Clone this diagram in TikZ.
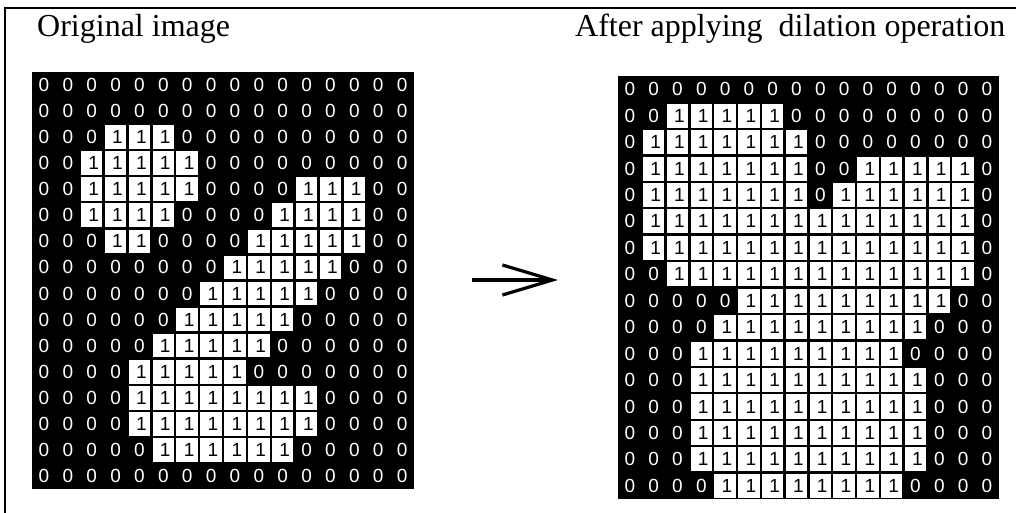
\documentclass[tikz,border=0pt]{standalone}
\usepackage{fontspec}
\setmainfont{Liberation Serif}
\newfontfamily\cellfont{Liberation Sans}
\usetikzlibrary{arrows.meta, positioning}

% pixel rows of the two binary images
\def\origgrid{%
  {0,0,0,0,0,0,0,0,0,0,0,0,0,0,0,0},
  {0,0,0,0,0,0,0,0,0,0,0,0,0,0,0,0},
  {0,0,0,1,1,1,0,0,0,0,0,0,0,0,0,0},
  {0,0,1,1,1,1,1,0,0,0,0,0,0,0,0,0},
  {0,0,1,1,1,1,1,0,0,0,0,1,1,1,0,0},
  {0,0,1,1,1,1,0,0,0,0,1,1,1,1,0,0},
  {0,0,0,1,1,0,0,0,0,1,1,1,1,1,0,0},
  {0,0,0,0,0,0,0,0,1,1,1,1,1,0,0,0},
  {0,0,0,0,0,0,0,1,1,1,1,1,0,0,0,0},
  {0,0,0,0,0,0,1,1,1,1,1,0,0,0,0,0},
  {0,0,0,0,0,1,1,1,1,1,0,0,0,0,0,0},
  {0,0,0,0,1,1,1,1,1,0,0,0,0,0,0,0},
  {0,0,0,0,1,1,1,1,1,1,1,1,0,0,0,0},
  {0,0,0,0,1,1,1,1,1,1,1,1,0,0,0,0},
  {0,0,0,0,0,1,1,1,1,1,1,0,0,0,0,0},
  {0,0,0,0,0,0,0,0,0,0,0,0,0,0,0,0}}
\def\dilgrid{%
  {0,0,0,0,0,0,0,0,0,0,0,0,0,0,0,0},
  {0,0,1,1,1,1,1,0,0,0,0,0,0,0,0,0},
  {0,1,1,1,1,1,1,1,0,0,0,0,0,0,0,0},
  {0,1,1,1,1,1,1,1,0,0,1,1,1,1,1,0},
  {0,1,1,1,1,1,1,1,0,1,1,1,1,1,1,0},
  {0,1,1,1,1,1,1,1,1,1,1,1,1,1,1,0},
  {0,1,1,1,1,1,1,1,1,1,1,1,1,1,1,0},
  {0,0,1,1,1,1,1,1,1,1,1,1,1,1,1,0},
  {0,0,0,0,0,1,1,1,1,1,1,1,1,1,0,0},
  {0,0,0,0,1,1,1,1,1,1,1,1,1,0,0,0},
  {0,0,0,1,1,1,1,1,1,1,1,1,0,0,0,0},
  {0,0,0,1,1,1,1,1,1,1,1,1,1,0,0,0},
  {0,0,0,1,1,1,1,1,1,1,1,1,1,0,0,0},
  {0,0,0,1,1,1,1,1,1,1,1,1,1,0,0,0},
  {0,0,0,1,1,1,1,1,1,1,1,1,1,0,0,0},
  {0,0,0,0,1,1,1,1,1,1,1,1,0,0,0,0}}

\begin{document}
\begin{tikzpicture}[x=1pt, y=-1pt,
	title/.style={anchor=base west, inner sep=0pt, font=\fontsize{32}{36}\selectfont},
	zero/.style={inner sep=0pt, text=white, font=\cellfont\fontsize{19}{19}\selectfont},
	one/.style={inner sep=0pt, text=black, font=\cellfont\fontsize{19}{19}\selectfont},
	frame/.style={line width=2pt, black},
	fl/.style={-{Straight Barb[length=50pt, width=30pt, line width=3.2pt]}, line width=3.2pt}]
	\useasboundingbox (0,0) rectangle (1016,513);
	% border
	\draw[frame] (5,513) -- (5,8) -- (1016,8);
	% titles
	\node[title] (origtitle) at (37,37) {Original image};
	\node[title] (diltitle) at (575,37) {After applying~ dilation operation};
	% original image
	\begin{scope}[shift={(32,72)}, x=23.875pt, y=-26.06pt]
		\fill[black] (0,0) rectangle (16,16);
		\foreach \row [count=\r from 0] in \origgrid {
			\foreach \v [count=\c from 0] in \row {
				\ifnum\v=1
					\fill[white] (\c+.05,\r+.045) rectangle (\c+.95,\r+.955);
					\node[one] (L\r-\c) at (\c+.58,\r+.5) {1};
				\else
					\node[zero] (L\r-\c) at (\c+.5,\r+.5) {0};
				\fi
			}
		}
	\end{scope}
	% dilated image
	\begin{scope}[shift={(618,76)}, x=23.8pt, y=-26.44pt]
		\fill[black] (0,0) rectangle (16,16);
		\foreach \row [count=\r from 0] in \dilgrid {
			\foreach \v [count=\c from 0] in \row {
				\ifnum\v=1
					\fill[white] (\c+.05,\r+.045) rectangle (\c+.95,\r+.955);
					\node[one] (R\r-\c) at (\c+.58,\r+.5) {1};
				\else
					\node[zero] (R\r-\c) at (\c+.5,\r+.5) {0};
				\fi
			}
		}
	\end{scope}
	% arrow
	\coordinate (arrtail) at (472,280);
	\coordinate (arrtip) at (558,280);
	\draw[fl] (arrtail) -- (arrtip);
\end{tikzpicture}
\end{document}
